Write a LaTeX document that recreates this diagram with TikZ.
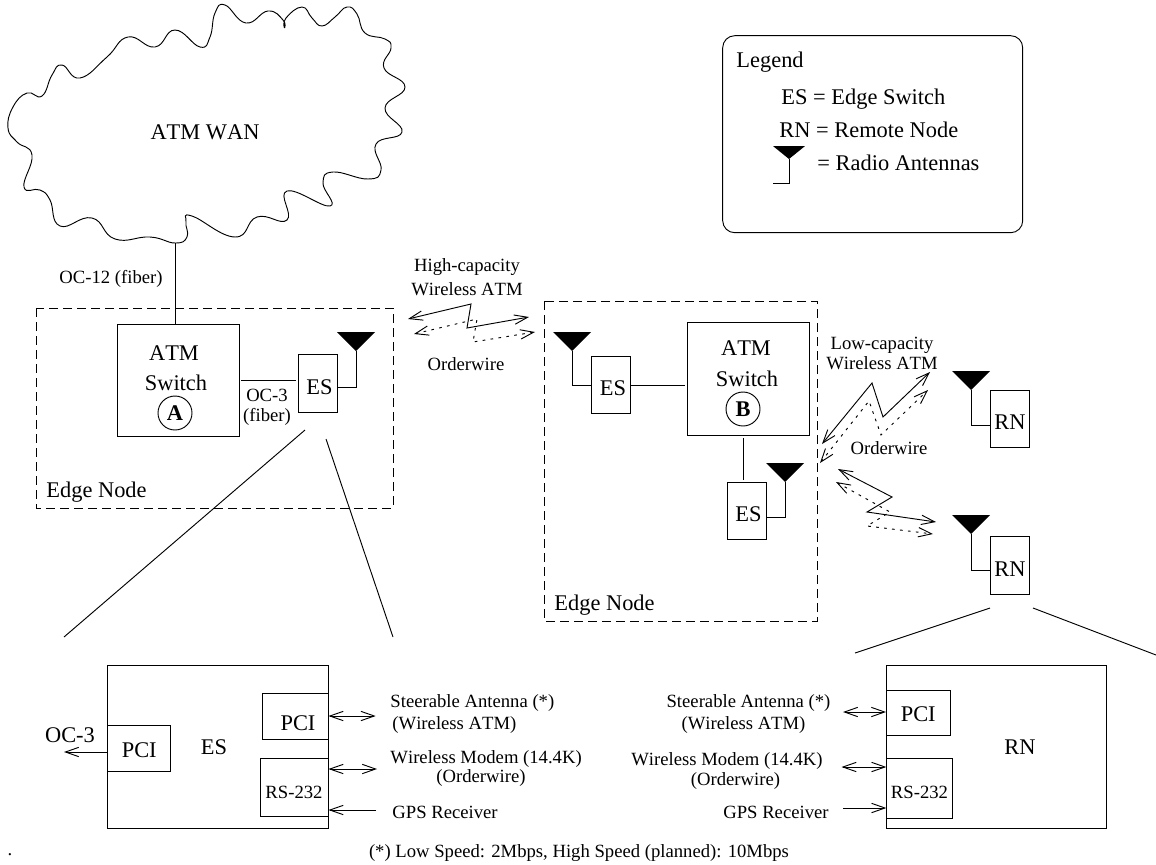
\documentclass[tikz,border=0pt]{standalone}
\usepackage{fontspec}
\setmainfont[Kerning=Off]{Liberation Serif}
\usetikzlibrary{arrows.meta,calc}
\tikzset{
  >={Straight Barb[length=10pt,width=7pt]},
  lab/.style={font=\fontsize{14}{15}\selectfont,inner sep=0pt,align=center},
  biglab/.style={font=\fontsize{16.8}{20}\selectfont,inner sep=0pt,align=center},
  box/.style={draw,font=\fontsize{16.8}{20}\selectfont,inner sep=0pt,align=center,text depth=0pt},
  esbox/.style={box,minimum width=29.25pt,minimum height=43pt,text height=16.4pt},
  switchbox/.style={box,minimum width=91.5pt,minimum height=84.5pt},
  edgearea/.style={dash pattern=on 6.5pt off 4pt},
  dotline/.style={dash pattern=on 2pt off 4pt},
  antenna/.pic={\fill (-19,-19) -- (19,-19) -- (0,0) -- cycle;}
}
\begin{document}
\begin{tikzpicture}[x=.75pt,y=-.75pt,line width=.7pt]
\useasboundingbox (0,0) rectangle (1156,864);
% cloud
\draw plot[smooth,tension=.8] coordinates {(284.5,28) (286,18) (302,7) (312,18) (322,26) (335,17) (347,7) (357,14) (365,33) (385,39) (391,48) (384,68) (405,87) (385,108) (402,132) (376,144) (381,170) (368,179) (333,172) (323,183) (330,206) (287,191) (287,220) (257,217) (235,237) (192,216) (186,222) (187,237) (175,243) (150,237) (115,239) (92,218) (60,226) (50,200) (40,190) (24,187) (32,155) (17,142) (8,128) (13,107) (27,93) (42,96) (52,75) (62,65) (80,78) (107,57) (128,37) (155,47) (175,30) (200,47) (210,37) (215,13) (225,5) (246,23) (268,11) (283,20) (284.5,28)};
\node[biglab] (wan) at (205,132) {ATM WAN};
\coordinate (wanfoot) at (175,243);
\node[lab] (oc12) at (111,279) {OC-12 (fiber)};
% legend
\draw[rounded corners=9pt] (722.7,35.7) rectangle (1022.7,232.7);
\node[biglab,anchor=west] (legend) at (736,62) {Legend};
\node[biglab,anchor=west] (legend1) at (781,99) {ES = Edge Switch};
\node[biglab,anchor=west] (legend2) at (779,130) {RN = Remote Node};
\node[biglab,anchor=west] (legend3) at (817,163) {= Radio Antennas};
\path (789,159) coordinate (antleg) pic[xscale=.84,yscale=.68] {antenna};
\coordinate (legfoot) at (773,183);
\draw (antleg) |- (legfoot);
% edge node A
\draw[edgearea] (36,308) rectangle (393,508);
\node[biglab,anchor=west] (edgea) at (46,492) {Edge Node};
\node[switchbox] (swa) at (178,380.5) {};
\node[biglab] (atma) at (174,353) {ATM};
\node[biglab] (switcha) at (176,383) {Switch};
\node[draw,circle,minimum size=25.5pt,inner sep=0pt,font=\fontsize{16.8}{20}\selectfont\bfseries] (cira) at (175,413) {A};
\node[esbox] (esa) at (317.5,383.5) {\hspace*{3pt}ES};
\node[lab] (fibera) at (267,407) {OC-3\\(fiber)};
\path (356,351) coordinate (anta) pic {antenna};
\draw (wanfoot) -- (wanfoot |- swa.north);
\draw[shorten <=1.5pt,shorten >=1.5pt] (swa.east) -- (esa.west |- swa.east);
\draw (anta) |- ([yshift=-2.6pt]esa.east);
% edge node B
\draw[edgearea] (544,301) rectangle (817,621);
\node[biglab,anchor=west] (edgeb) at (554,605) {Edge Node};
\node[switchbox] (swb) at (748,379) {};
\node[biglab] (atmb) at (746,348) {ATM};
\node[biglab] (switchb) at (747,379) {Switch};
\node[draw,circle,minimum size=25.5pt,inner sep=0pt,font=\fontsize{16.8}{20}\selectfont\bfseries] (cirb) at (743,409) {B};
\node[esbox] (esbl) at (611,385) {\hspace*{3pt}ES};
\node[esbox] (esbr) at (746.5,511) {\hspace*{3pt}ES};
\path (572,351) coordinate (antbl) pic {antenna};
\path (785,482) coordinate (antbr) pic {antenna};
\draw (antbl) |- (esbl.west);
\draw[shorten >=1.5pt] (esbl.east) -- (swb.west |- esbl.east);
\draw[shorten <=1.5pt,shorten >=1.5pt] ([xshift=-2.6pt]esbr.north) -- ([xshift=-2.6pt]esbr.north |- swb.south);
\draw (antbr) |- ([yshift=-5pt]esbr.east);
% remote nodes
\node[esbox] (rna) at (1010,419) {RN};
\node[esbox] (rnb) at (1010,565.5) {RN};
\path (971,390) coordinate (antra) pic {antenna};
\path (971,534) coordinate (antrb) pic {antenna};
\draw (antra) |- ([yshift=-5pt]rna.west);
\draw (antrb) |- ([yshift=-3.4pt]rnb.west);
% wireless links
\node[lab] (highcap) at (467,277) {High-capacity\\[3pt]Wireless ATM};
\node[lab] (orderhigh) at (466,364) {Orderwire};
\coordinate (hsa) at (408,319);
\coordinate (hsb) at (529,317);
\coordinate (hda) at (414,334);
\coordinate (hdb) at (535,332);
\draw[<->] (hsa) -- (471,304) -- (467,328) -- (hsb);
\draw[<->,dotline] (hda) -- (477,319) -- (473,342) -- (hdb);
\node[lab] (lowcap) at (882,353) {Low-capacity\\Wireless ATM};
\node[lab] (orderlow) at (889,448) {Orderwire};
\coordinate (lsa) at (822,444);
\coordinate (lsb) at (930,372);
\coordinate (lda) at (820,463);
\coordinate (ldb) at (928,390);
\draw[<->] (lsa) -- (872,383) -- (883,417) -- (lsb);
\draw[<->,dotline] (lda) -- (869,401) -- (881,435) -- (ldb);
\coordinate (rsa) at (838,469);
\coordinate (rsb) at (936,522);
\coordinate (rda) at (836,482);
\coordinate (rdb) at (933,534);
\draw[<->] (rsa) -- (892,497) -- (867,512) -- (rsb);
\draw[<->,dotline] (rda) -- (890,512) -- (867,526) -- (rdb);
% zoom lines
\coordinate (fana) at (305,430);
\coordinate (fanb) at (64,637);
\coordinate (fanc) at (326,439);
\coordinate (fand) at (393,637);
\draw (fana) -- (fanb);
\draw (fanc) -- (fand);
\coordinate (fane) at (990,608);
\coordinate (fanf) at (855,653);
\coordinate (fang) at (1033,608);
\coordinate (fanh) at (1156,655);
\draw (fane) -- (fanf);
\draw (fang) -- (fanh);
% ES detail
\node[box,minimum width=165.5pt,minimum height=122pt] (esbig) at (217.75,747) {};
\node[biglab] (estext) at (214,747) {ES};
\node[box,minimum width=47.5pt,minimum height=34pt,text height=13.4pt] (pcil) at (139.25,748.5) {PCI};
\node[box,minimum width=49.5pt,minimum height=34pt,text height=20.9pt] (pcir) at (295,716.5) {\hspace*{4.5pt}PCI};
\node[box,font=\fontsize{14}{15}\selectfont,minimum width=51pt,minimum height=43.5pt,text height=16.8pt] (rsl) at (294,787) {RS-232};
\node[biglab] (ocout) at (70,735) {OC-3};
\coordinate (ocend) at (64,752);
\draw[->] (ocend -| pcil.west) -- (ocend);
\coordinate (esa1) at (377,716);
\coordinate (esa2) at (377,769);
\coordinate (esa3) at (376,810);
\draw[<->,shorten <=1pt] (esa1) -- (esa1 -| pcir.east);
\draw[<->] (esa2) -- (esa2 -| rsl.east);
\draw[->] (esa3) -- (esa3 -| rsl.east);
\node[lab,anchor=west] (esl1) at (390,703) {Steerable Antenna (*)};
\node[lab,anchor=west] (esl2) at (392,725) {(Wireless ATM)};
\node[lab,anchor=west] (esl3) at (390,759) {Wireless Modem (14.4K)};
\node[lab] (esl4) at (481,778) {(Orderwire)};
\node[lab,anchor=west] (esl5) at (392,812) {GPS Receiver};
% RN detail
\node[box,minimum width=164.6pt,minimum height=122pt] (rnbig) at (996.25,747) {};
\node[biglab] (rntext) at (1020,747) {RN};
\node[box,minimum width=47.6pt,minimum height=33.75pt,text height=13.4pt] (pcin) at (918.25,712.5) {PCI};
\node[box,font=\fontsize{14}{15}\selectfont,minimum width=49pt,minimum height=45pt,text height=15.3pt] (rsn) at (919.5,788) {RS-232};
\coordinate (rna1) at (843,712);
\coordinate (rna2) at (841.5,767);
\coordinate (rna3) at (843,808);
\draw[<->] (rna1) -- (rna1 -| pcin.west);
\draw[<->] (rna2) -- (rna2 -| rsn.west);
\draw[->] (rna3) -- (rna3 -| rsn.west);
\node[lab] (rnl1) at (748.5,703) {Steerable Antenna (*)};
\node[lab] (rnl2) at (743.5,725) {(Wireless ATM)};
\node[lab] (rnl3) at (727,761) {Wireless Modem (14.4K)};
\node[lab] (rnl4) at (735.5,781) {(Orderwire)};
\node[lab] (rnl5) at (776,812) {GPS Receiver};
% footnote
\node[lab] (speed) at (579,853) {(*) Low Speed: 2Mbps, High Speed (planned): 10Mbps};
\node[lab] (speck) at (10,855) {.};
\end{tikzpicture}
\end{document}
